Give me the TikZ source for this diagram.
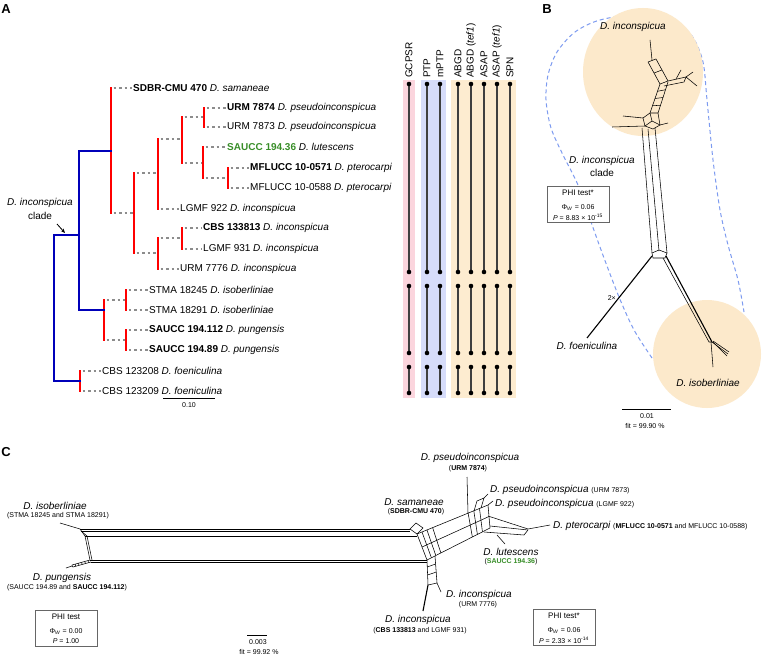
\documentclass[tikz,border=0pt]{standalone}
\usepackage{fontspec}
\setmainfont{Liberation Sans}
\usetikzlibrary{arrows.meta}
\definecolor{tblue}{RGB}{0,0,185}
\definecolor{tred}{RGB}{255,0,0}
\definecolor{tgreen}{RGB}{56,142,40}
\definecolor{bgpink}{RGB}{251,213,221}
\definecolor{bgblue}{RGB}{214,220,250}
\definecolor{bgtan}{RGB}{253,236,208}
\definecolor{circtan}{RGB}{252,233,203}
\definecolor{dashb}{RGB}{125,155,240}
\newcommand\fsz[1]{\fontsize{#1}{#1}\selectfont}
\begin{document}
\begin{tikzpicture}[x=1pt,y=-1pt,
  bl/.style={draw=tblue,line width=2.3pt,line cap=rect},
  rd/.style={draw=tred,line width=2.3pt,line cap=rect},
  dt/.style={draw=black!45,line width=2pt,dash pattern=on 2.4pt off 3.2pt,shorten <=2.5pt,shorten >=1.5pt},
  leaf/.style={anchor=west,inner sep=0pt,font=\fsz{10}},
  hdr/.style={rotate=90,anchor=west,inner sep=0pt,font=\fsz{10}},
  col/.style={draw=black!75,line width=1.4pt},
  net/.style={draw=black,line width=0.55pt},
  thk/.style={draw=black,line width=1.1pt},
  lbl/.style={inner sep=0pt,font=\fsz{10}\itshape},
  sml/.style={inner sep=0pt,font=\fsz{7}},
  plab/.style={inner sep=0pt,font=\fsz{13}\bfseries},
  phibox/.style={draw=black!60,line width=0.6pt,minimum width=62pt,minimum height=36pt,inner sep=0pt},
  dashbl/.style={draw=dashb,line width=1pt,dash pattern=on 4pt off 3pt}]
\useasboundingbox (0,0) rectangle (762,658);
\fill[white] (0,0) rectangle (762,658);

%================ PANEL A ================
\node[plab] (labA) at (6,9) {A};

% internal node coordinates (t = top, b = bottom, m = join point)
\coordinate (r0t) at (54,235);  \coordinate (r0b) at (54,381);
\coordinate (n1t) at (79,151);  \coordinate (n1b) at (79,310);  \coordinate (n1m) at (79,235);
\coordinate (n2t) at (111,88);  \coordinate (n2b) at (111,213); \coordinate (n2m) at (111,151);
\coordinate (n3t) at (134,173); \coordinate (n3b) at (134,253); \coordinate (n3m) at (134,213);
\coordinate (n4t) at (158,139); \coordinate (n4b) at (158,209); \coordinate (n4m) at (158,173);
\coordinate (n5t) at (182,117); \coordinate (n5b) at (182,163); \coordinate (n5m) at (182,139);
\coordinate (n6t) at (204,108); \coordinate (n6b) at (204,127); \coordinate (n6m) at (204,117);
\coordinate (n7t) at (203,147); \coordinate (n7b) at (203,178); \coordinate (n7m) at (203,163);
\coordinate (n8t) at (228,168); \coordinate (n8b) at (228,188); \coordinate (n8m) at (228,178);
\coordinate (n9t) at (158,238); \coordinate (n9b) at (158,269); \coordinate (n9m) at (158,253);
\coordinate (n10t) at (182,228); \coordinate (n10b) at (182,249); \coordinate (n10m) at (182,238);
\coordinate (n11t) at (104,300); \coordinate (n11b) at (104,340); \coordinate (n11m) at (104,310);
\coordinate (n12t) at (126,290); \coordinate (n12b) at (126,310); \coordinate (n12m) at (126,300);
\coordinate (n13t) at (126,330); \coordinate (n13b) at (126,350); \coordinate (n13m) at (126,340);
\coordinate (n14t) at (80,371);  \coordinate (n14b) at (80,391);  \coordinate (n14m) at (80,381);

% leaves
\node[leaf] (L1) at (133,88) {\textbf{SDBR-CMU 470} \textit{D. samaneae}};
\node[leaf] (L2) at (227,108) {\textbf{URM 7874} \textit{D. pseudoinconspicua}};
\node[leaf] (L3) at (227,127) {URM 7873 \textit{D. pseudoinconspicua}};
\node[leaf] (L4) at (227,147) {\textcolor{tgreen}{\textbf{SAUCC 194.36}} \textit{D. lutescens}};
\node[leaf] (L5) at (250,168) {\textbf{MFLUCC 10-0571} \textit{D. pterocarpi}};
\node[leaf] (L6) at (250,188) {MFLUCC 10-0588 \textit{D. pterocarpi}};
\node[leaf] (L7) at (180,209) {LGMF 922 \textit{D. inconspicua}};
\node[leaf] (L8) at (203,228) {\textbf{CBS 133813} \textit{D. inconspicua}};
\node[leaf] (L9) at (203,249) {LGMF 931 \textit{D. inconspicua}};
\node[leaf] (L10) at (180,269) {URM 7776 \textit{D. inconspicua}};
\node[leaf] (L11) at (149,290) {STMA 18245 \textit{D. isoberliniae}};
\node[leaf] (L12) at (149,310) {STMA 18291 \textit{D. isoberliniae}};
\node[leaf] (L13) at (149,330) {\textbf{SAUCC 194.112} \textit{D. pungensis}};
\node[leaf] (L14) at (149,350) {\textbf{SAUCC 194.89} \textit{D. pungensis}};
\node[leaf] (L15) at (102,371) {CBS 123208 \textit{D. foeniculina}};
\node[leaf] (L16) at (102,391) {CBS 123209 \textit{D. foeniculina}};

% dotted horizontal branches
\draw[dt] (n2b) -- (n3m);
\draw[dt] (n3t) -- (n4m);
\draw[dt] (n4t) -- (n5m);
\draw[dt] (n5t) -- (n6m);
\draw[dt] (n5b) -- (n7m);
\draw[dt] (n7b) -- (n8m);
\draw[dt] (n3b) -- (n9m);
\draw[dt] (n9t) -- (n10m);
\draw[dt] (n11t) -- (n12m);
\draw[dt] (n11b) -- (n13m);
\draw[dt] (n2t) -- (L1.west);
\draw[dt] (n6t) -- (L2.west);
\draw[dt] (n6b) -- (L3.west);
\draw[dt] (n7t) -- (L4.west);
\draw[dt] (n8t) -- (L5.west);
\draw[dt] (n8b) -- (L6.west);
\draw[dt] (n4b) -- (L7.west);
\draw[dt] (n10t) -- (L8.west);
\draw[dt] (n10b) -- (L9.west);
\draw[dt] (n9b) -- (L10.west);
\draw[dt] (n12t) -- (L11.west);
\draw[dt] (n12b) -- (L12.west);
\draw[dt] (n13t) -- (L13.west);
\draw[dt] (n13b) -- (L14.west);
\draw[dt] (n14t) -- (L15.west);
\draw[dt] (n14b) -- (L16.west);

% red verticals
\foreach \n in {n2,n3,n4,n5,n6,n7,n8,n9,n10,n11,n12,n13,n14}{\draw[rd] (\n t) -- (\n b);}
% blue backbone
\draw[bl] (r0t) -- (r0b);
\draw[bl] (r0t) -- (n1m);
\draw[bl] (r0b) -- (n14m);
\draw[bl] (n1t) -- (n1b);
\draw[bl] (n1t) -- (n2m);
\draw[bl] (n1b) -- (n11m);

% clade label and arrow
\node[inner sep=0pt,font=\fsz{10}\itshape] (cladeA1) at (40,203) {D. inconspicua};
\node[inner sep=0pt,font=\fsz{10}] (cladeA2) at (40,216) {clade};
\coordinate (arS) at (57,224); \coordinate (arE) at (65,233);
\draw[-{Stealth[length=4.5pt,width=3.8pt]},line width=0.8pt] (arS) -- (arE);

% scale bar A
\coordinate (sA1) at (163,398); \coordinate (sA2) at (215,398);
\draw[line width=0.6pt] (sA1) -- (sA2);
\node[sml] (sAt) at (189,405) {0.10};

% delimitation columns
\fill[bgpink] (403,80) rectangle (415,398);
\fill[bgblue] (421,80) rectangle (446,398);
\fill[bgtan] (451,80) rectangle (516,398);
\node[hdr] (h1) at (409,78) {GCPSR};
\node[hdr] (h2) at (427,78) {PTP};
\node[hdr] (h3) at (440,78) {mPTP};
\node[hdr] (h4) at (458,78) {ABGD};
\node[hdr] (h5) at (471,78) {ABGD (\textit{tef1})};
\node[hdr] (h6) at (484,78) {ASAP};
\node[hdr] (h7) at (497,78) {ASAP (\textit{tef1})};
\node[hdr] (h8) at (510,78) {SPN};
\foreach \x in {409,427,440,458,471,484,497,510}{
  \foreach \a/\b in {84/272,286/353,367/393}{
    \draw[col] (\x,\a) -- (\x,\b);
    \fill (\x,\a) circle[radius=2.3pt];
    \fill (\x,\b) circle[radius=2.3pt];
  }}

%================ PANEL B ================
\node[plab] (labB) at (547,9) {B};
\draw[dashbl] plot[smooth] coordinates {(652,358) (634,330) (619,297) (604,258) (591,222) (578,185) (563,155) (551,128) (546,100) (548,75) (557,52) (575,32) (600,20) (640,14) (672,20) (692,36) (703,62) (707,100) (713,160) (720,210) (728,245) (738,280) (744,312)};
\fill[circtan] (643,72) ellipse[x radius=60pt,y radius=64pt];
\fill[circtan] (707,354) circle[radius=54pt];

% top reticulate cluster
\draw[net] (650,40) -- (652,60);
\draw[net] (648,62) -- (660,84);
\draw[net] (656,59) -- (668,81);
\draw[net] (648,62) -- (656,59);
\draw[net] (654,73) -- (662,70);
\draw[net] (660,84) -- (668,81);
\draw[net] (668,81) -- (686,77) -- (697,86);
\draw[net] (664,86) -- (684,82) -- (686,77);
\draw[net] (676,79) -- (681,70);
\draw[net] (686,77) -- (693,72);
\draw[net] (660,84) -- (650,113);
\draw[net] (668,82) -- (658,113);
\foreach \t in {0.25,0.5,0.75}{\draw[net] ({660-10*\t},{84+29*\t}) -- ({668-10*\t},{82+31*\t});}
\draw[net] (650,113) -- (643,118) -- (645,126) -- (653,129) -- (660,125) -- (658,113) -- cycle;
\draw[net] (650,113) -- (652,121) -- (660,125);
\draw[net] (652,121) -- (645,126);
\draw[net] (643,118) -- (623,116);
\draw[net] (645,126) -- (612,127);
\draw[net] (660,125) -- (668,123);
\draw[net] (642,128) -- (652,253);
\draw[net] (648,129) -- (659,251);
\draw[net] (655,128) -- (667,253);
% lower junction
\draw[net] (652,253) -- (659,250) -- (667,253) -- (665,258) -- (653,258) -- cycle;
\coordinate (bFo1) at (652,256); \coordinate (bFo2) at (587,338);
\draw[thk] (bFo1) -- (bFo2);
\node[inner sep=0pt,font=\fsz{7},anchor=east] (twox) at (616,298) {2×};
\draw[thk] (666,256) -- (712,342);
\draw[net] (663,258) -- (709,342) -- (712,342);
\draw[net] (711,342) -- (713,367);
\draw[net] (712,342) -- (728,354);
\draw[net] (713,341) -- (729,352);
\draw[net] (713,342) -- (727,356);

\node[lbl] (bInc) at (633,27) {D. inconspicua};
\node[lbl] (bClade1) at (602,161) {D. inconspicua};
\node[inner sep=0pt,font=\fsz{10}] (bClade2) at (602,173) {clade};
\node[lbl] (bFoe) at (587,346) {D. foeniculina};
\node[lbl] (bIso) at (708,383) {D. isoberliniae};

\node[phibox,fill=white] (phiB) at (578,204.5) {};
\node[inner sep=0pt,font=\fsz{8}] (phiB1) at (578,193) {PHI test*};
\node[inner sep=0pt,font=\fsz{7}] (phiB2) at (578,208) {Φ\textsubscript{\textit{W}} = 0.06};
\node[inner sep=0pt,font=\fsz{7}] (phiB3) at (578,217) {\textit{P} = 8.83 × 10\textsuperscript{-15}};

\coordinate (sB1) at (622,409); \coordinate (sB2) at (671,409);
\draw[line width=0.6pt] (sB1) -- (sB2);
\node[sml] (sBt) at (647,416) {0.01};
\node[sml] (fitB) at (645,426) {fit = 99.90 \%};

%================ PANEL C ================
\node[plab] (labC) at (6,452) {C};

% left end
\draw[net] (60,523) -- (80,529);
\draw[net] (80,529) -- (410,529);
\draw[net] (81,531) -- (410,531);
\draw[net] (80,529) -- (85,536) -- (90,560);
\draw[net] (81,531) -- (87,536) -- (92,560);
\draw[net] (85,536) -- (417,536);
\draw[net] (90,560) -- (427,560);
\draw[net] (91,562) -- (427,562);
% pungensis
\draw[net] (90,560) -- (72,565);
\draw[net] (91,562) -- (73,567);
\foreach \i in {0,...,5}{\draw[net] ({88-3.2*\i},{560.6+0.9*\i}) -- ({88.6-3.2*\i},{562.6+0.9*\i});}
\draw[net] (72,566) -- (66,568);
% samaneae diamond
\draw[net] (410,529) -- (416,523) -- (423,528) -- (417,534) -- cycle;
% central band
\draw[net] (417,534) -- (488,505);
\draw[net] (422,547) -- (489,516.5);
\draw[net] (427,560) -- (490,528);
\foreach \t in {0,0.07,0.14,0.22,0.72,0.8,0.88,1}{\draw[net] ({417+71*\t},{534-29*\t}) -- ({427+63*\t},{560-32*\t});}
% pseudoinconspicua tips
\draw[net] (468,513) -- (467,477);
\draw[net] (474,511) -- (477,501) -- (484,498) -- (481,508);
\draw[net] (484,498) -- (488,494);
\draw[net] (488,505) -- (493,501);
% pterocarpi
\draw[net] (488,516) -- (528,529);
\draw[net] (490,526) -- (528,530);
\draw[net] (484,532) -- (524,535) -- (528,530);
\draw[net] (528,529) -- (550,525);
% lutescens
\draw[net] (497,535) -- (505,544);
% bottom ladder
\draw[net] (427,560) -- (428,585);
\draw[net] (435,556) -- (437,583);
\draw[net] (427.3,567) -- (435.5,564);
\draw[net] (427.6,575) -- (436.3,572);
\draw[net] (428,585) -- (437,583);
\draw[net] (437,583) -- (441,592);
\draw[thk] (428,585) -- (423,611);

% labels C
\node[lbl] (cIso) at (55,506) {D. isoberliniae};
\node[sml] (cIsoP) at (58,516) {(STMA 18245 and STMA 18291)};
\node[lbl] (cPun) at (62,578) {D. pungensis};
\node[sml] (cPunP) at (67,588) {(SAUCC 194.89 and \textbf{SAUCC 194.112})};
\node[lbl] (cSam) at (414,502) {D. samaneae};
\node[sml] (cSamP) at (416,512) {(\textbf{SDBR-CMU 470})};
\node[lbl] (cP74) at (470,458) {D. pseudoinconspicua};
\node[sml] (cP74P) at (468,469) {(\textbf{URM 7874})};
\node[lbl,anchor=base west] (cP73) at (490,492) {D. pseudoinconspicua {\upshape\fsz{7}(URM 7873)}};
\node[lbl,anchor=base west] (cP22) at (495,506) {D. pseudoinconspicua {\upshape\fsz{7}(LGMF 922)}};
\node[lbl,anchor=base west] (cPte) at (553,528) {D. pterocarpi {\upshape\fsz{7}(\textbf{MFLUCC 10-0571} and MFLUCC 10-0588)}};
\node[lbl] (cLut) at (511,552) {D. lutescens};
\node[sml] (cLutP) at (511,562) {(\textcolor{tgreen}{\textbf{SAUCC 194.36}})};
\node[lbl] (c76) at (479,595) {D. inconspicua};
\node[sml] (c76P) at (478,605) {(URM 7776)};
\node[lbl] (cCBS) at (418,620) {D. inconspicua};
\node[sml] (cCBSP) at (420,631) {(\textbf{CBS 133813} and LGMF 931)};

% PHI boxes C
\node[phibox] (phiC1) at (66,628.5) {};
\node[inner sep=0pt,font=\fsz{8}] (phiC1a) at (66,617) {PHI test};
\node[inner sep=0pt,font=\fsz{7}] (phiC1b) at (66,632) {Φ\textsubscript{\textit{W}} = 0.00};
\node[inner sep=0pt,font=\fsz{7}] (phiC1c) at (66,641) {\textit{P} = 1.00};
\node[phibox] (phiC2) at (564,627.5) {};
\node[inner sep=0pt,font=\fsz{8}] (phiC2a) at (564,616) {PHI test*};
\node[inner sep=0pt,font=\fsz{7}] (phiC2b) at (564,631) {Φ\textsubscript{\textit{W}} = 0.06};
\node[inner sep=0pt,font=\fsz{7}] (phiC2c) at (564,640) {\textit{P} = 2.33 × 10\textsuperscript{-14}};

\coordinate (sC1) at (247,635); \coordinate (sC2) at (267,635);
\draw[line width=0.6pt] (sC1) -- (sC2);
\node[sml] (sCt) at (258,642) {0.003};
\node[sml] (fitC) at (259,652) {fit = 99.92 \%};
\end{tikzpicture}
\end{document}
